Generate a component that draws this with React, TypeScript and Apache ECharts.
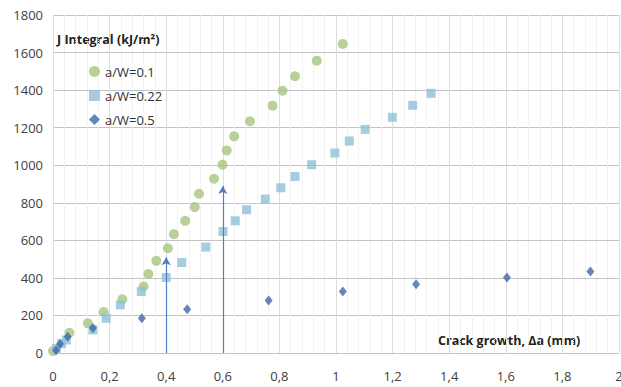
import React, { useEffect, useRef } from "react";
import * as echarts from "echarts";

const seriesNames = ["a/W=0.1", "a/W=0.22", "a/W=0.5"];

const aw01: [number, number][] = [
  [0.0, 10], [0.058, 108], [0.123, 158], [0.179, 219], [0.245, 286], [0.32, 354],
  [0.337, 421], [0.365, 491], [0.406, 558], [0.427, 633], [0.467, 704], [0.501, 777],
  [0.516, 848], [0.569, 928], [0.599, 1003], [0.614, 1079], [0.64, 1154], [0.696, 1234],
  [0.776, 1317], [0.811, 1397], [0.855, 1474], [0.932, 1557], [1.024, 1646],
];

const aw022: [number, number][] = [
  [0.012, 25], [0.03, 50], [0.047, 69], [0.141, 123], [0.188, 185], [0.238, 256],
  [0.312, 327], [0.4, 402], [0.455, 482], [0.54, 564], [0.601, 647], [0.644, 704],
  [0.684, 763], [0.75, 820], [0.805, 880], [0.855, 940], [0.914, 1003], [0.996, 1065],
  [1.047, 1129], [1.103, 1191], [1.199, 1255], [1.271, 1319], [1.336, 1383],
];

const aw05: [number, number][] = [
  [0.011, 14], [0.025, 48], [0.052, 87], [0.141, 133], [0.314, 185], [0.474, 233],
  [0.762, 279], [1.024, 327], [1.283, 366], [1.604, 402], [1.899, 434],
];

const arrows: [number, number, number][] = [
  [0.4, 0, 510],
  [0.6, 0, 890],
];

const yTitle = "J Integral (kJ/m²)";
const xTitle = "Crack growth, Δa (mm)";

const FONT = "'Open Sans', 'Liberation Sans', sans-serif";

export default function App() {
  const ref = useRef<HTMLDivElement>(null);
  useEffect(() => {
    if (!ref.current) return;
    const chart = echarts.init(ref.current, undefined, { renderer: "svg" });
    chart.setOption({
      animation: false,
      backgroundColor: "#ffffff",
      grid: { left: 53, right: 2, top: 15, bottom: 34, containLabel: false, outerBoundsMode: "none" },
      legend: {
        left: 84,
        top: 60,
        orient: "vertical",
        itemGap: 11,
        itemWidth: 11,
        itemHeight: 11,
        textStyle: { fontFamily: FONT, fontSize: 13, color: "#333" },
        data: seriesNames,
      },
      xAxis: {
        type: "value",
        min: 0,
        max: 2,
        interval: 0.2,
        axisLine: { show: false },
        axisTick: { show: false },
        axisLabel: {
          fontFamily: FONT,
          fontSize: 13,
          color: "#404040",
          margin: 16,
          formatter: (v: number) => String(Math.round(v * 10) / 10).replace(".", ","),
        },
        splitLine: { show: true, lineStyle: { color: "#dcdcdc", width: 1 } },
        minorTick: { show: false, splitNumber: 5 },
        minorSplitLine: { show: true, lineStyle: { color: "#e6e6e6", type: "dotted", width: 1 } },
      },
      yAxis: {
        type: "value",
        min: 0,
        max: 1800,
        interval: 200,
        axisLine: { show: false },
        axisTick: { show: false },
        axisLabel: {
          fontFamily: FONT,
          fontSize: 13,
          color: "#404040",
          margin: 10,
          formatter: (v: number) => String(v),
        },
        splitLine: { show: true, lineStyle: { color: "#c4c4c4", width: 1 } },
      },
      graphic: [
        {
          type: "text",
          left: 57,
          top: 33,
          style: { text: yTitle, fontFamily: FONT, fontSize: 12.5, fontWeight: "bold", fill: "#222" },
        },
        {
          type: "text",
          left: 438,
          top: 334,
          style: { text: xTitle, fontFamily: FONT, fontSize: 12.5, fontWeight: "bold", fill: "#222" },
        },
      ],
      series: [
        {
          name: seriesNames[0],
          type: "scatter",
          symbol: "circle",
          symbolSize: 10,
          itemStyle: { color: "#a8c47e" },
          data: aw01,
          z: 3,
        },
        {
          name: seriesNames[1],
          type: "scatter",
          symbol: "rect",
          symbolSize: 9,
          itemStyle: { color: "#8fc0d8" },
          data: aw022,
          z: 4,
          markLine: {
            silent: true,
            symbol: ["none", "arrow"],
            symbolSize: [7, 8],
            label: { show: false },
            lineStyle: { color: "#4f7fbf", width: 1.2, type: "solid" },
            data: arrows.map(([x, y0, y1]) => [{ coord: [x, y0] }, { coord: [x, y1] }]),
          },
        },
        {
          name: seriesNames[2],
          type: "scatter",
          symbol: "diamond",
          symbolSize: [8, 10],
          itemStyle: { color: "#3e68a8" },
          data: aw05,
          z: 5,
        },
      ],
    });
    return () => chart.dispose();
  }, []);
  return <div ref={ref} style={{ width: 621, height: 387, position: "absolute", left: 0, top: 0 }} />;
}
